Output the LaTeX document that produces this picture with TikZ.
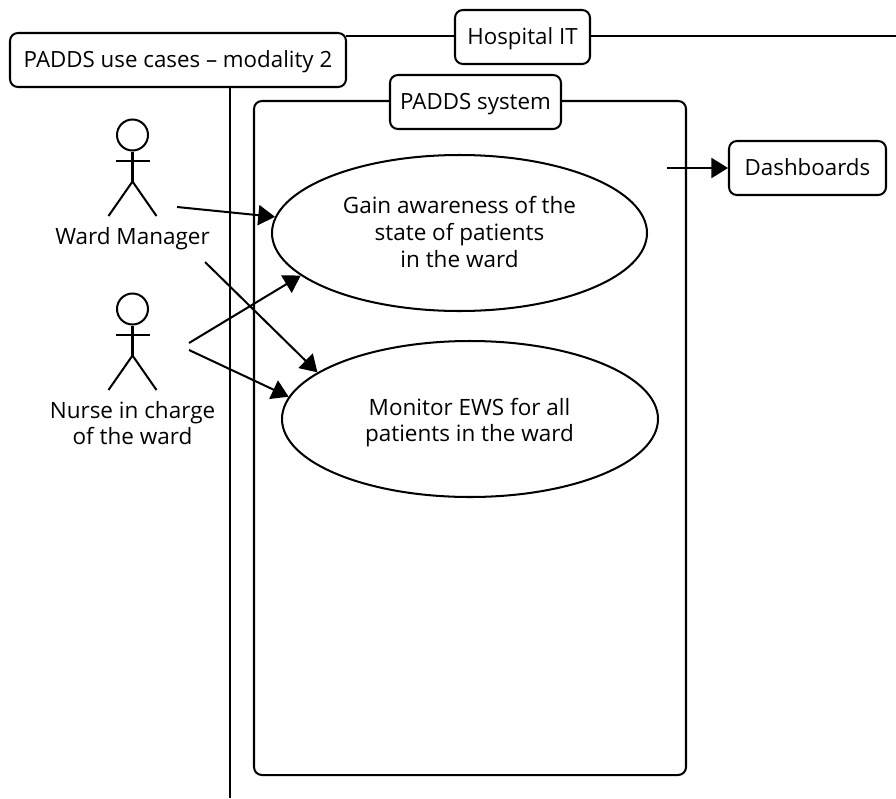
\documentclass[tikz,border=0pt]{standalone}
\usepackage{fontspec}
\setmainfont{Open Sans}
\usetikzlibrary{shapes,arrows.meta}

\begin{document}
\begin{tikzpicture}[x=0.02cm,y=-0.02cm]
		\tikzstyle {plain} = [line width=1.15pt]
		\tikzstyle {label} = [draw,plain,fill=white,rounded corners=4.5pt,inner sep=0pt,font=\fontsize{12.7}{15}\selectfont,text height=11pt,text depth=2pt]
		\tikzstyle {usecase} = [draw,plain,ellipse,inner sep=0pt]
		\tikzstyle {caption} = [inner sep=0pt,font=\fontsize{12.8}{15.2}\selectfont,align=center]
		\tikzstyle {vector} = [plain,-{Triangle[length=9.5pt,width=11.5pt]}]

		\useasboundingbox (0,0) rectangle (896,798);

		% outer lines
		\coordinate (itleft) at (346,35.9);
		\coordinate (itright) at (896,35.9);
		\coordinate (splittop) at (230,87);
		\coordinate (splitbottom) at (230,798);
		\draw[plain] (itleft) -- (itright);
		\draw[plain] (splittop) -- (splitbottom);

		\node[label,minimum width=336*0.02cm,minimum height=54*0.02cm] (title) at (178,60) {PADDS use cases – modality 2};
		\node[label,minimum width=135*0.02cm,minimum height=54*0.02cm] (hospital) at (522.5,37) {Hospital IT};

		% system frame
		\node[draw,plain,rounded corners=4.5pt,minimum width=432*0.02cm,minimum height=674*0.02cm] (frame) at (470,438) {};
		\node[label,minimum width=171*0.02cm,minimum height=54*0.02cm] (system) at (475.5,102) {PADDS system};
		\node[label,minimum width=157*0.02cm,minimum height=54*0.02cm] (dashboards) at (807.5,168) {Dashboards};

		\node[usecase,minimum width=375*0.02cm,minimum height=156*0.02cm] (gain) at (459.5,233) {};
		\node[caption] (gaintext) at (459.5,232) {Gain awareness of the\\state of patients\\in the ward};
		\node[usecase,minimum width=376*0.02cm,minimum height=156*0.02cm] (monitor) at (470,419) {};
		\node[caption] (monitortext) at (469.5,422.5) {Monitor EWS for all\\patients in the ward};

		% actors
		\foreach \who/\dy in {ward/0,nurse/174} {
			\node[draw,plain,circle,inner sep=0pt,minimum size=31*0.02cm] (\who head) at (132.5,135+\dy) {};
			\coordinate (\who hip) at (132.5,181.5+\dy);
			\coordinate (\who arml) at (116,161+\dy);
			\coordinate (\who armr) at (149.5,161+\dy);
			\coordinate (\who legl) at (108.5,216+\dy);
			\coordinate (\who legr) at (156.5,216+\dy);
			\draw[plain] (\who head.south) -- (\who hip);
			\draw[plain] (\who arml) -- (\who armr);
			\draw[plain] (\who legl) -- (\who hip) -- (\who legr);
		}
		\node[caption] (wardlabel) at (132.5,239) {Ward Manager};
		\node[caption] (nurselabel) at (132.5,423) {Nurse in charge\\of the ward};

		% arrows
		\coordinate (wardout) at (177,207);
		\coordinate (wardcross) at (205,262);
		\coordinate (nurseup) at (189,343);
		\coordinate (nursedown) at (189,350);
		\coordinate (dashout) at (667,168);
		\draw[vector] (wardout) -- (gain.175);
		\draw[vector] (wardcross) -- (monitor.163.6);
		\draw[vector] (nurseup) -- (gain.195);
		\draw[vector] (nursedown) -- (monitor.173.7);
		\draw[vector] (dashout) -- (dashboards.west);
	\end{tikzpicture}
\end{document}
